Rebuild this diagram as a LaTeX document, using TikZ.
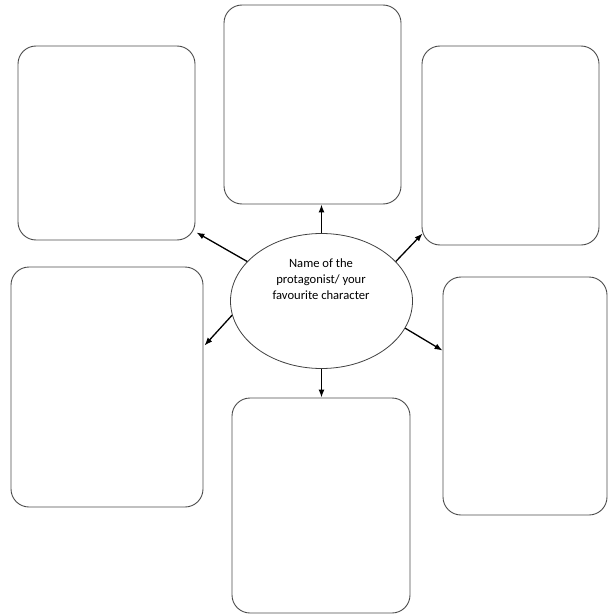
\documentclass[tikz,border=0pt]{standalone}
\usepackage{fontspec}
\setmainfont{Carlito}
\usetikzlibrary{arrows.meta,calc,shapes.geometric}
\begin{document}
\begin{tikzpicture}[x=1pt,y=-1pt,
  card/.style={draw=black!70,line width=0.9pt,rounded corners=18pt,rectangle,inner sep=0pt},
  hub/.style={draw=black!75,line width=0.8pt,ellipse,inner sep=0pt,minimum width=182pt,minimum height=135pt},
  link/.style={line width=1.3pt,-{Latex[length=8pt,width=6pt]}},
  lbl/.style={font=\fontsize{12.6pt}{16pt}\selectfont,align=center}
]
\useasboundingbox (0,0) rectangle (609,615);
\node[card,minimum width=177pt,minimum height=194pt] (tl) at (106.5,143) {};
\node[card,minimum width=177pt,minimum height=199pt] (tc) at (312.5,104.5) {};
\node[card,minimum width=177pt,minimum height=199pt] (tr) at (510.5,145.5) {};
\node[card,minimum width=192pt,minimum height=240pt] (ml) at (107,387) {};
\node[card,minimum width=178pt,minimum height=215pt] (bc) at (321,505.5) {};
\node[card,minimum width=164pt,minimum height=238pt] (rr) at (525,396) {};
\node[hub] (e) at (321.5,301) {};
\node[lbl] (t) at (321,279) {Name of the\\protagonist/ your\\favourite character};
\draw[link] (e.north) -- (e.north |- tc.south);
\draw[link] (e.south) -- (e.south |- bc.north);
\draw[link] (e.152) -- ($(tl.south east)+(1,-8)$);
\draw[link] (e.28) -- ($(tr.south west)+(1,-12)$);
\draw[link] (e.189) -- ($(ml.north east)+(1,79)$);
\draw[link] (e.342) -- ($(rr.north west)+(0,74)$);
\end{tikzpicture}
\end{document}
